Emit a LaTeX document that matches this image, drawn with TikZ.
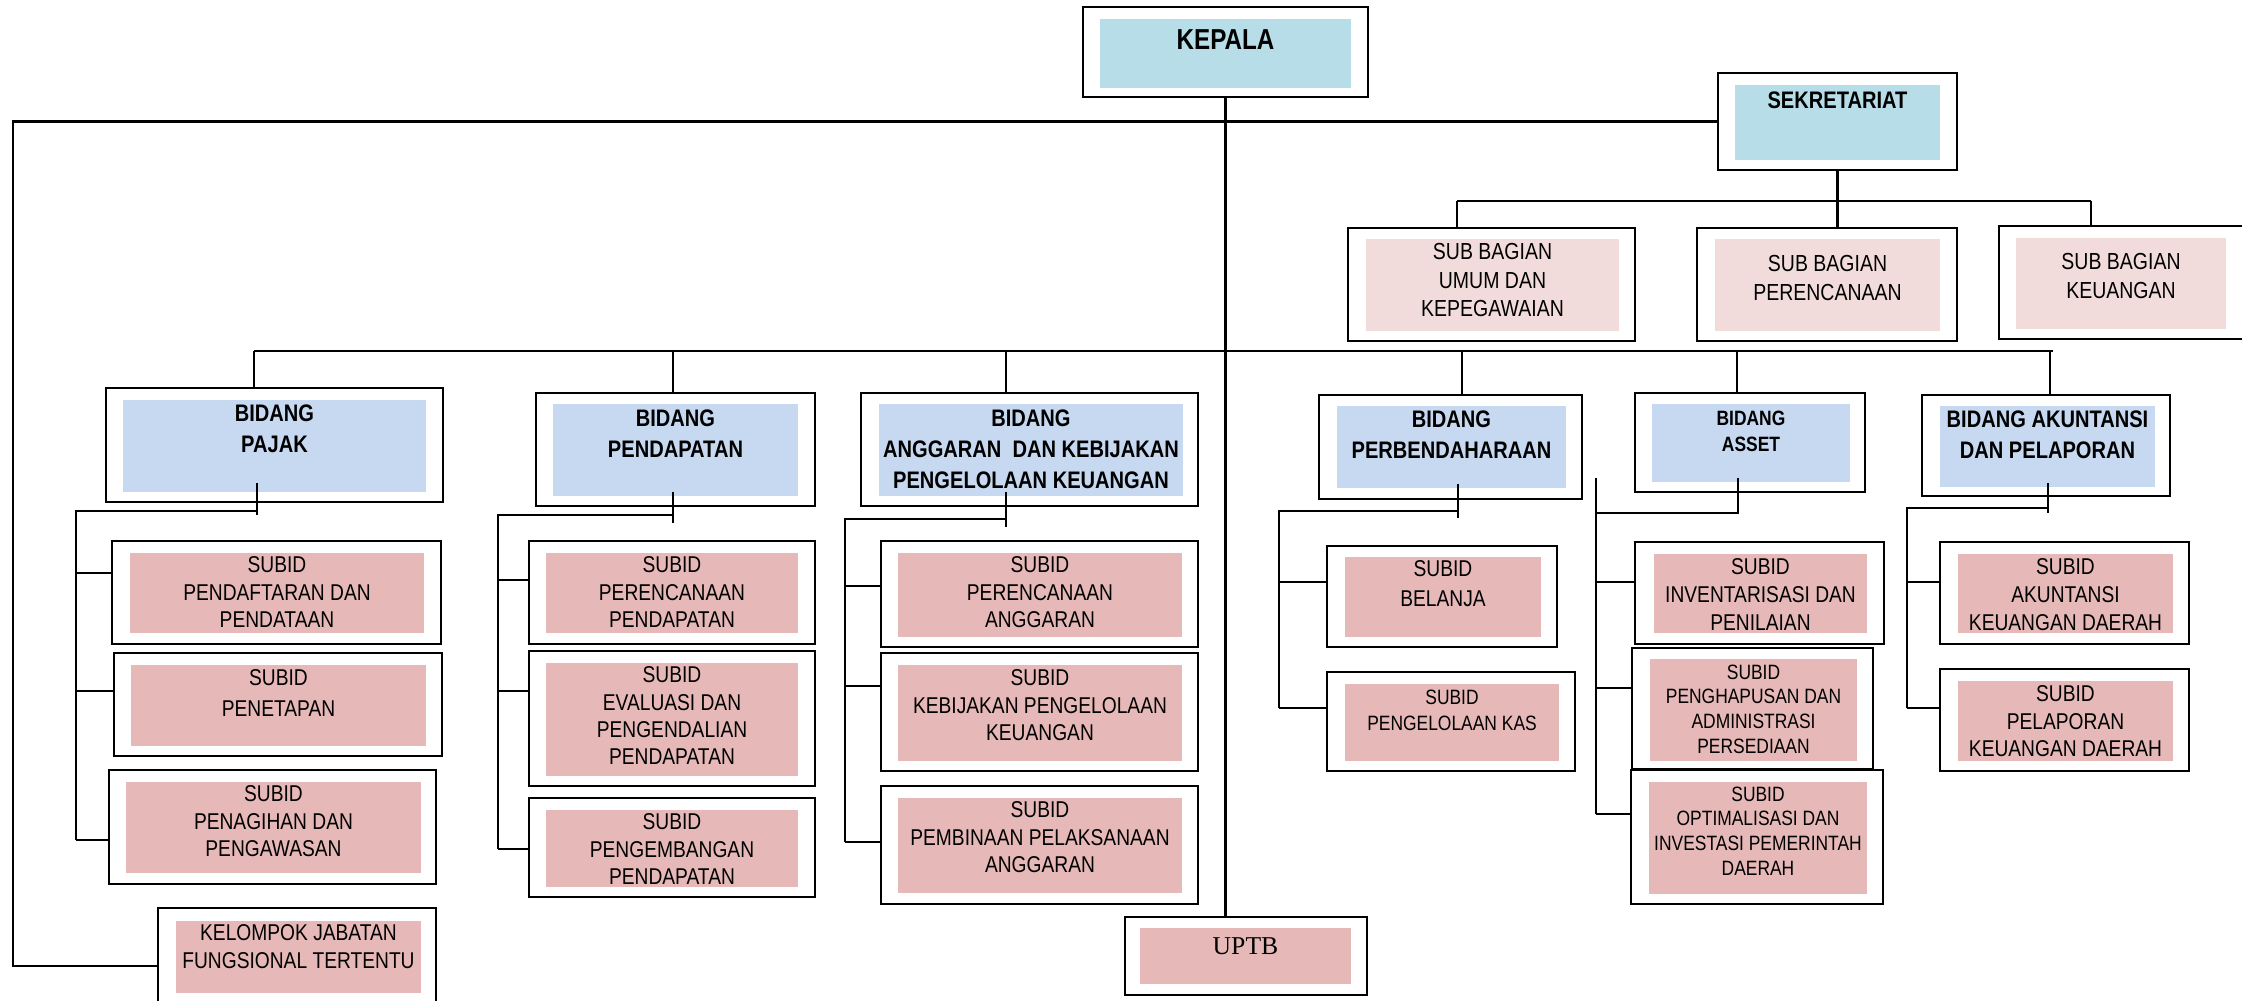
\documentclass[tikz,border=0pt]{standalone}
\usepackage{fontspec}
\setmainfont{Liberation Sans}[FakeStretch=0.84]
\newfontfamily\uptbfont{Liberation Serif}
\usetikzlibrary{fit}
\definecolor{colorHead}{HTML}{B7DEE8}
\definecolor{colorBidang}{HTML}{C6D9F1}
\definecolor{colorBagian}{HTML}{F2DCDB}
\definecolor{colorSubid}{HTML}{E6B9B8}

\tikzset{
  outerbox/.style={draw, line width=0.8pt, fill=white, inner sep=0pt},
  innerbox/.style={inner sep=0pt},
  link/.style={line width=0.6pt},
  headtext/.style={font=\fontsize{8.2}{9}\selectfont\bfseries, align=center, inner sep=0pt},
  sektext/.style={font=\fontsize{6.8}{8}\selectfont\bfseries, align=center, inner sep=0pt},
  bagtext/.style={font=\fontsize{6.6}{8}\selectfont, align=center, inner sep=0pt},
  bidtext/.style={font=\fontsize{6.8}{8.8}\selectfont\bfseries, align=center, inner sep=0pt},
  bidsmall/.style={font=\fontsize{5.9}{7.4}\selectfont\bfseries, align=center, inner sep=0pt},
  subtext/.style={font=\fontsize{6.5}{7.8}\selectfont, align=center, inner sep=0pt},
  subsmall/.style={font=\fontsize{5.9}{7}\selectfont, align=center, inner sep=0pt},
  uptbtext/.style={font=\uptbfont\fontsize{7.3}{8}\selectfont, align=center, inner sep=0pt}
}

% name, outer corners, inner corners, fill, text style, text top, text
\newcommand{\orgbox}[9]{%
  \node[outerbox, fit={#2 #3}] (#1) {};
  \node[innerbox, fill=#6, fit={#4 #5}] (#1-in) {};
  \node[#7, anchor=north] (#1-txt) at (#1-in.center |- 0,#8) {#9};
}

\begin{document}
\begin{tikzpicture}[x=0.01cm, y=-0.01cm]
    \useasboundingbox (0,0) rectangle (2242,1001);
    \clip (0,0) rectangle (2242,1001);

    % pimpinan dan sekretariat
    \orgbox{kepala}{(1083,7)}{(1368,97)}{(1100,19)}{(1351,88)}{colorHead}{headtext}{29}{KEPALA}
    \orgbox{sekretariat}{(1718,73)}{(1957,170)}{(1735,85)}{(1940,160)}{colorHead}{sektext}{91}{SEKRETARIAT}
    \orgbox{umum}{(1348,228)}{(1635,341)}{(1366,239)}{(1619,331)}{colorBagian}{bagtext}{243}{SUB BAGIAN\\UMUM DAN\\KEPEGAWAIAN}
    \orgbox{perencanaan}{(1697,228)}{(1957,341)}{(1715,239)}{(1940,331)}{colorBagian}{bagtext}{255}{SUB BAGIAN\\PERENCANAAN}
    \orgbox{keuangan}{(1999,226)}{(2262,339)}{(2016,238)}{(2226,329)}{colorBagian}{bagtext}{253}{SUB BAGIAN\\KEUANGAN}

    % bidang
    \orgbox{pajak}{(106,388)}{(443,502)}{(123,400)}{(426,492)}{colorBidang}{bidtext}{404}{BIDANG\\PAJAK}
    \orgbox{pendapatan}{(536,393)}{(815,506)}{(553,404)}{(798,496)}{colorBidang}{bidtext}{409}{BIDANG\\PENDAPATAN}
    \orgbox{anggaran}{(861,393)}{(1198,506)}{(879,404)}{(1183,496)}{colorBidang}{bidtext}{409}{BIDANG\\ANGGARAN\ \ DAN KEBIJAKAN\\PENGELOLAAN KEUANGAN}
    \orgbox{perbendaharaan}{(1319,395)}{(1582,499)}{(1337,406)}{(1566,488)}{colorBidang}{bidtext}{410}{BIDANG\\PERBENDAHARAAN}
    \orgbox{asset}{(1635,393)}{(1865,492)}{(1652,404)}{(1850,482)}{colorBidang}{bidsmall}{410}{BIDANG\\ASSET}
    \orgbox{akuntansi}{(1922,395)}{(2170,496)}{(1940,406)}{(2155,487)}{colorBidang}{bidtext}{410}{BIDANG AKUNTANSI\\DAN PELAPORAN}

    % subid pajak
    \orgbox{pendaftaran}{(112,541)}{(441,644)}{(130,553)}{(424,633)}{colorSubid}{subtext}{556}{SUBID\\PENDAFTARAN DAN\\PENDATAAN}
    \orgbox{penetapan}{(114,653)}{(442,756)}{(131,665)}{(426,746)}{colorSubid}{subtext, font=\fontsize{6.5}{8.8}\selectfont}{669}{SUBID\\PENETAPAN}
    \orgbox{penagihan}{(109,770)}{(436,884)}{(126,782)}{(421,873)}{colorSubid}{subtext}{785}{SUBID\\PENAGIHAN DAN\\PENGAWASAN}
    \orgbox{kelompok}{(158,908)}{(436,1024)}{(176,921)}{(421,993)}{colorSubid}{subtext, font=\fontsize{6.5}{8}\selectfont}{924}{KELOMPOK JABATAN\\FUNGSIONAL TERTENTU}

    % subid pendapatan
    \orgbox{perpend}{(529,541)}{(815,644)}{(546,553)}{(798,633)}{colorSubid}{subtext}{556}{SUBID\\PERENCANAAN\\PENDAPATAN}
    \orgbox{evaluasi}{(529,651)}{(815,786)}{(546,663)}{(798,776)}{colorSubid}{subtext}{666}{SUBID\\EVALUASI DAN\\PENGENDALIAN\\PENDAPATAN}
    \orgbox{pengembangan}{(529,798)}{(815,897)}{(546,810)}{(798,887)}{colorSubid}{subtext}{813}{SUBID\\PENGEMBANGAN\\PENDAPATAN}

    % subid anggaran
    \orgbox{peranggaran}{(881,541)}{(1198,647)}{(898,553)}{(1182,637)}{colorSubid}{subtext}{556}{SUBID\\PERENCANAAN\\ANGGARAN}
    \orgbox{kebijakan}{(881,653)}{(1198,771)}{(898,665)}{(1182,761)}{colorSubid}{subtext}{669}{SUBID\\KEBIJAKAN PENGELOLAAN\\KEUANGAN}
    \orgbox{pembinaan}{(881,786)}{(1198,904)}{(898,798)}{(1182,893)}{colorSubid}{subtext}{801}{SUBID\\PEMBINAAN PELAKSANAAN\\ANGGARAN}

    \orgbox{uptb}{(1125,917)}{(1367,995)}{(1140,928)}{(1351,984)}{colorSubid}{uptbtext}{937}{UPTB}

    % subid perbendaharaan
    \orgbox{belanja}{(1327,546)}{(1557,647)}{(1345,557)}{(1541,637)}{colorSubid}{subtext, font=\fontsize{6.5}{8.5}\selectfont}{560}{SUBID\\BELANJA}
    \orgbox{kas}{(1327,672)}{(1575,771)}{(1345,684)}{(1559,761)}{colorSubid}{subsmall, font=\fontsize{5.9}{7.4}\selectfont}{689}{SUBID\\PENGELOLAAN KAS}

    % subid asset
    \orgbox{inventarisasi}{(1635,542)}{(1884,644)}{(1654,554)}{(1867,633)}{colorSubid}{subtext, font=\fontsize{6.5}{8}\selectfont}{558}{SUBID\\INVENTARISASI DAN\\PENILAIAN}
    \orgbox{penghapusan}{(1632,648)}{(1873,769)}{(1650,659)}{(1857,761)}{colorSubid}{subsmall}{664}{SUBID\\PENGHAPUSAN DAN\\ADMINISTRASI\\PERSEDIAAN}
    \orgbox{optimalisasi}{(1631,770)}{(1883,904)}{(1649,782)}{(1867,894)}{colorSubid}{subsmall}{786}{SUBID\\OPTIMALISASI DAN\\INVESTASI PEMERINTAH\\DAERAH}

    % subid akuntansi
    \orgbox{akkeu}{(1940,542)}{(2189,644)}{(1958,554)}{(2173,633)}{colorSubid}{subtext, font=\fontsize{6.5}{8}\selectfont}{558}{SUBID\\AKUNTANSI\\KEUANGAN DAERAH}
    \orgbox{pelaporan}{(1940,669)}{(2189,771)}{(1958,681)}{(2173,761)}{colorSubid}{subtext}{685}{SUBID\\PELAPORAN\\KEUANGAN DAERAH}

    % garis kepala
    \draw[link] (kepala.south) -- (kepala.south |- uptb.north);
    \coordinate (leftx) at (13,122);
    \draw[link] (sekretariat.west) -- (sekretariat.west -| leftx) |- (kelompok.west);

    % garis sekretariat
    \coordinate (sbl) at (1457,201);
    \coordinate (sbr) at (2091,201);
    \draw[link] (sbl) -- (sbr);
    \draw[link] (sekretariat.south) -- (sekretariat.south |- perencanaan.north);
    \draw[link] (sbl) -- (sbl |- umum.north);
    \draw[link] (sbr) -- (sbr |- keuangan.north);

    % garis bidang
    \coordinate (bbl) at (254,351);
    \coordinate (bbr) at (2053,351);
    \draw[link, line width=0.8pt] (bbl) -- (bbr);
    \foreach \x/\n in {254/pajak, 673/pendapatan, 1006/anggaran, 1462/perbendaharaan, 1737/asset, 2050/akuntansi}
        \draw[link] (bbl -| \x,0) -- (\n.north -| \x,0);

    % pajak
    \coordinate (pjk-top) at (257,483);
    \coordinate (pjk-bus) at (76,511);
    \draw[link] (pjk-top) -- (pjk-top |- 0,515);
    \draw[link] (pjk-top |- pjk-bus) -- (pjk-bus) -- (pjk-bus |- 0,840);
    \foreach \n/\y in {pendaftaran/573, penetapan/691, penagihan/840}
        \draw[link] (pjk-bus |- 0,\y) -- (\n.west |- 0,\y);

    % pendapatan
    \coordinate (pdp-top) at (673,492);
    \coordinate (pdp-bus) at (498,515);
    \draw[link] (pdp-top) -- (pdp-top |- 0,523);
    \draw[link] (pdp-top |- pdp-bus) -- (pdp-bus) -- (pdp-bus |- 0,849);
    \foreach \n/\y in {perpend/580, evaluasi/691, pengembangan/849}
        \draw[link] (pdp-bus |- 0,\y) -- (\n.west |- 0,\y);

    % anggaran
    \coordinate (agr-top) at (1006,492);
    \coordinate (agr-bus) at (845,519);
    \draw[link] (agr-top) -- (agr-top |- 0,527);
    \draw[link] (agr-top |- agr-bus) -- (agr-bus) -- (agr-bus |- 0,842);
    \foreach \n/\y in {peranggaran/586, kebijakan/686, pembinaan/842}
        \draw[link] (agr-bus |- 0,\y) -- (\n.west |- 0,\y);

    % perbendaharaan
    \coordinate (pbd-top) at (1458,484);
    \coordinate (pbd-bus) at (1279,511);
    \draw[link] (pbd-top) -- (pbd-top |- 0,518);
    \draw[link] (pbd-top |- pbd-bus) -- (pbd-bus) -- (pbd-bus |- 0,708);
    \foreach \n/\y in {belanja/582, kas/708}
        \draw[link] (pbd-bus |- 0,\y) -- (\n.west |- 0,\y);

    % asset
    \coordinate (ast-top) at (1738,478);
    \coordinate (ast-bus) at (1596,513);
    \draw[link] (ast-top) -- (ast-top |- ast-bus) -- (ast-bus);
    \draw[link] (ast-bus |- 0,478) -- (ast-bus |- 0,814);
    \foreach \n/\y in {inventarisasi/582, penghapusan/688, optimalisasi/814}
        \draw[link] (ast-bus |- 0,\y) -- (\n.west |- 0,\y);

    % akuntansi
    \coordinate (akt-top) at (2048,483);
    \coordinate (akt-bus) at (1907,508);
    \draw[link] (akt-top) -- (akt-top |- 0,513);
    \draw[link] (akt-top |- akt-bus) -- (akt-bus) -- (akt-bus |- 0,708);
    \foreach \n/\y in {akkeu/582, pelaporan/708}
        \draw[link] (akt-bus |- 0,\y) -- (\n.west |- 0,\y);
\end{tikzpicture}
\end{document}
